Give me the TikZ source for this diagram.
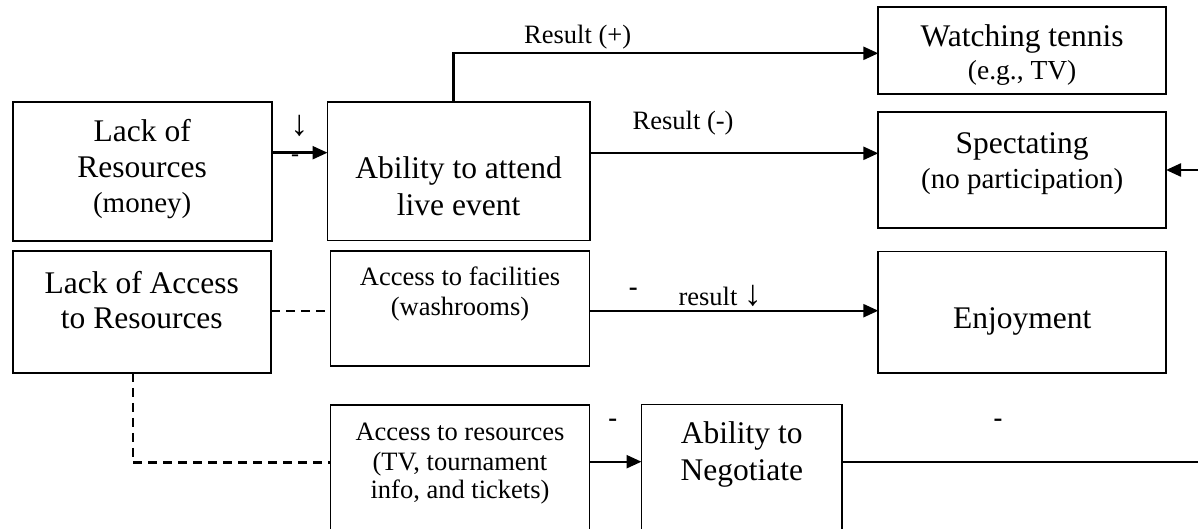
\documentclass[tikz,border=0pt]{standalone}
\usepackage{fontspec}
\setmainfont{Liberation Serif}
\usetikzlibrary{arrows.meta}
\begin{document}
\begin{tikzpicture}[x=1pt,y=-1pt,
  box/.style={draw, line width=1.9pt, rectangle, inner sep=0pt, outer sep=0pt},
  arr/.style={line width=2.4pt, -{Triangle[length=15pt,width=13pt]}},
  ln/.style={line width=2.4pt},
  dsh/.style={line width=2.4pt, dash pattern=on 9pt off 6pt},
  bigt/.style={font=\fontsize{31.5}{36}\selectfont, anchor=base, inner sep=0pt},
  midt/.style={font=\fontsize{29}{34}\selectfont, anchor=base, inner sep=0pt},
  egt/.style={font=\fontsize{27.5}{32}\selectfont, anchor=base, inner sep=0pt},
  smallt/.style={font=\fontsize{26.5}{30}\selectfont, anchor=base, inner sep=0pt},
  arrowt/.style={font=\fontsize{36}{36}\selectfont, anchor=base, inner sep=0pt},
  minus/.style={font=\fontsize{26.5}{30}\selectfont\bfseries, inner sep=0pt},
  thinminus/.style={font=\fontsize{24}{28}\selectfont, inner sep=0pt}]
\useasboundingbox (0,0) rectangle (1198,529);
\clip (0,0) rectangle (1198,529);

% boxes
\node[box, minimum width=259.1pt, minimum height=139pt] (lor) at (142.15,171.2) {};
\node[box, minimum width=262.2pt, minimum height=138.8pt] (abl) at (458.6,171.1) {};
\node[box, minimum width=287.7pt, minimum height=86.7pt] (wat) at (1022.15,50.65) {};
\node[box, minimum width=287.7pt, minimum height=115.4pt] (spe) at (1022.15,170) {};
\node[box, minimum width=258.4pt, minimum height=122pt] (loa) at (141.8,311.8) {};
\node[box, minimum width=259pt, minimum height=115.3pt] (atf) at (460,308.65) {};
\node[box, minimum width=287.7pt, minimum height=121.8pt] (enj) at (1022.15,312.4) {};
\node[box, minimum width=259pt, minimum height=155.2pt] (atr) at (460,482.4) {};
\node[box, minimum width=200.5pt, minimum height=155.5pt] (neg) at (741.75,482.25) {};

% box texts
\node[bigt] (lor1) at (142.2,141.7) {Lack of};
\node[bigt] (lor2) at (142.2,177.7) {Resources};
\node[midt] (lor3) at (142.2,213) {(money)};

\node[bigt] (abl1) at (458.6,178.3) {Ability to attend};
\node[bigt] (abl2) at (458.6,215) {live event};

\node[bigt] (wat1) at (1022.15,46.7) {Watching tennis};
\node[egt] (wat2) at (1022.15,80) {(e.g., TV)};

\node[bigt] (spe1) at (1022.15,153.3) {Spectating};
\node[midt] (spe2) at (1022.15,188.3) {(no participation)};

\node[bigt] (loa1) at (141.8,293.3) {Lack of Access};
\node[bigt] (loa2) at (141.8,328.3) {to Resources};

\node[smallt] (atf1) at (460,285) {Access to facilities};
\node[smallt] (atf2) at (460,315) {(washrooms)};

\node[bigt] (enj1) at (1022.15,328.3) {Enjoyment};

\node[smallt] (atr1) at (460,440) {Access to resources};
\node[smallt] (atr2) at (460,470) {(TV, tournament};
\node[smallt] (atr3) at (460,498.3) {info, and tickets)};

\node[bigt] (neg1) at (741.75,443.3) {Ability to};
\node[bigt] (neg2) at (741.75,480) {Negotiate};

% connectors
\coordinate (redge) at (1198,170);
\coordinate (redge2) at (1198,461.7);

\draw[arr] (lor.east |- 0,152.7) -- (abl.west |- 0,152.7);
\draw[arr] (abl.north -| 453.5,0) |- (wat.west |- 0,53.3);
\draw[arr] (abl.east |- 0,153.3) -- (spe.west |- 0,153.3);
\draw[arr] (redge) -- (spe.east |- redge);
\draw[dsh] (loa.east |- 0,310.7) -- (atf.west |- 0,310.7);
\draw[dsh] (loa.south -| 132.7,0) |- (atr.west |- 0,462.5);
\draw[arr] (atf.east |- 0,310.7) -- (enj.west |- 0,310.7);
\draw[arr] (atr.east |- 0,461.7) -- (neg.west |- 0,461.7);
\draw[ln] (neg.east |- redge2) -- (redge2);

% labels
\node[arrowt] (darr1) at (299.3,136) {↓};
\node[thinminus] (m1) at (295,158) {-};
\node[smallt, anchor=base west] (rplus) at (524,43.3) {Result (+)};
\node[smallt, anchor=base west] (rminus) at (632.5,130) {Result (-)};
\node[minus] (m2) at (633.3,291.7) {-};
\node[smallt, anchor=base west] (res) at (678.3,305.5) {result};
\node[arrowt, anchor=base west] (darr2) at (res.base east) {\,↓};
\node[minus] (m3) at (612.7,423.3) {-};
\node[minus] (m4) at (998,422.7) {-};
\end{tikzpicture}
\end{document}
